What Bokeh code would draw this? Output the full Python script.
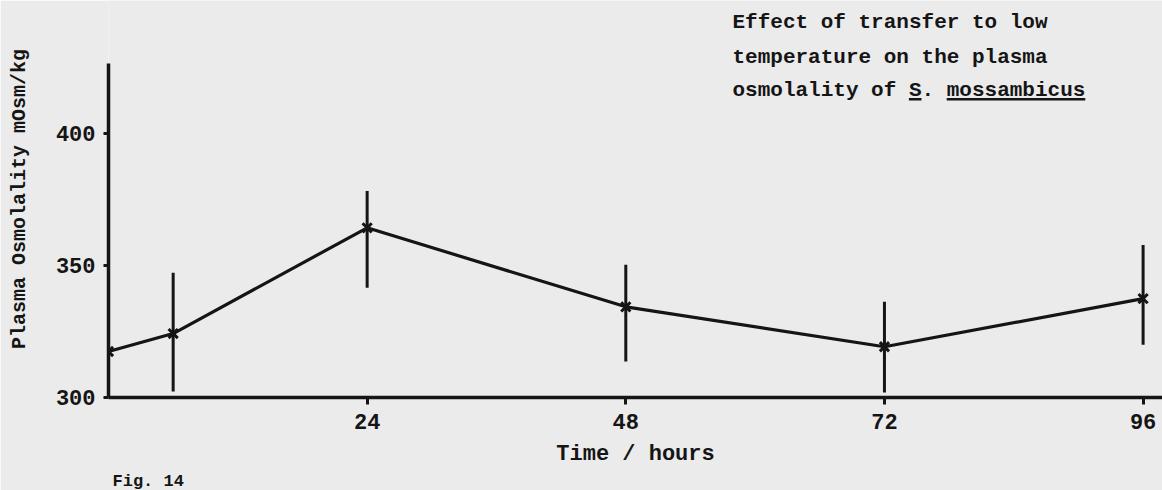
from bokeh.plotting import figure
from bokeh.models import FixedTicker, Range1d, Label, Title
from bokeh.embed import file_html
from bokeh.resources import INLINE

# ---- data ----
hours = [0, 6, 24, 48, 72, 96]
osmolality = [317.4, 324.2, 364.2, 334.3, 319.2, 337.4]
err_upper = [328.0, 347.2, 378.1, 350.2, 336.2, 357.7]
err_lower = [308.0, 302.3, 341.5, 313.6, 301.9, 320.0]
x_ticks = [24, 48, 72, 96]
y_ticks = [300, 350, 400]
title_lines = ["Effect of transfer to low",
               "temperature on the plasma",
               "osmolality of S. mossambicus"]
fig_caption = "Fig. 14"

INK = "#151515"
BG = "#ebebeb"
FONT = "Liberation Mono"

X_END = 97.8
p = figure(width=1162, height=490,
           x_range=Range1d(0, X_END), y_range=Range1d(300, 450.2),
           output_backend="svg", toolbar_location=None,
           min_border_left=108, min_border_right=0,
           min_border_top=0, min_border_bottom=92)

p.background_fill_color = BG
p.border_fill_color = BG
p.outline_line_color = None
p.grid.visible = False

# axes
for ax in (p.xaxis[0], p.yaxis[0]):
    ax.axis_line_color = INK
    ax.axis_line_width = 3.5
    ax.major_tick_line_color = INK
    ax.major_tick_line_width = 3
    ax.major_tick_in = 0
    ax.minor_tick_line_color = None
    ax.major_label_text_font = FONT
    ax.major_label_text_font_style = "bold"
    ax.major_label_text_font_size = "22px"
    ax.major_label_text_color = INK
    ax.axis_label_text_font = FONT
    ax.axis_label_text_color = INK

p.xaxis.ticker = FixedTicker(ticks=x_ticks)
p.xaxis.major_tick_out = 7
p.xaxis.major_label_standoff = 9
p.xaxis.axis_label = "Time / hours"
p.xaxis.axis_label_text_font_style = "bold"
p.xaxis.axis_label_text_font_size = "22px"
p.xaxis.axis_label_standoff = 10

p.yaxis.ticker = FixedTicker(ticks=y_ticks)
p.yaxis.bounds = (300, 426.5)
p.yaxis.major_tick_out = 5
p.yaxis.major_label_standoff = 8
p.yaxis.axis_label = "Plasma Osmolality mOsm/kg"
p.yaxis.axis_label_text_font_style = "bold"
p.yaxis.axis_label_text_font_size = "20px"
p.yaxis.axis_label_standoff = 22

# figure caption under the axis, at the bottom-left
p.add_layout(Title(text=fig_caption, align="left", offset=4, standoff=0,
                   text_font=FONT, text_font_size="17px", text_font_style="bold",
                   text_color=INK), "below")

# error bars
p.segment(x0=hours, y0=err_lower, x1=hours, y1=err_upper,
          line_color=INK, line_width=3)
# line + x markers
p.line(hours, osmolality, line_color=INK, line_width=3.2)
p.scatter(hours, osmolality, marker="x", size=13, line_color=INK, line_width=3)

# title block
tx0 = (732 - 108) / (1054 / X_END)
ys = [441.9, 428.6, 416.2]
FS = 21
for t, yy in zip(title_lines, ys):
    p.add_layout(Label(x=tx0, y=yy, text=t, text_font=FONT, text_font_size=f"{FS}px",
                       text_font_style="bold",
                       text_color=INK, text_baseline="middle", text_align="left"))

# underline "S." and "mossambicus" (char advance 0.6 em)
cw = 0.6 * FS / (1054 / X_END)
line3 = title_lines[2]
iS = line3.index("S.")
iM = line3.index("mossambicus")
uy = 412.8
p.segment(x0=[tx0 + iS * cw, tx0 + iM * cw], y0=[uy, uy],
          x1=[tx0 + (iS + 1) * cw, tx0 + (iM + len("mossambicus")) * cw], y1=[uy, uy],
          line_color=INK, line_width=2.5)

open("out.html", "w").write(file_html(p, INLINE))
